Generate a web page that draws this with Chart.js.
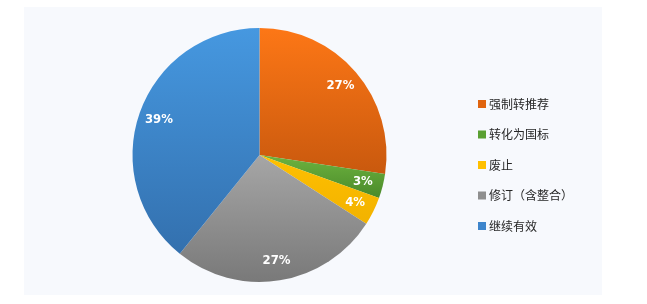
<!DOCTYPE html>
<html><head><meta charset="utf-8">
<script src="https://cdn.jsdelivr.net/npm/chart.js@4/dist/chart.umd.min.js"></script>
<style>
html,body{margin:0;padding:0;background:#fff;width:647px;height:304px;overflow:hidden}
#panel{position:absolute;left:24px;top:7px;width:578px;height:288px;background:#f7f9fd}
#wrap{position:absolute;left:0;top:0;width:647px;height:304px}
</style></head>
<body>
<div id="panel"></div>
<div id="wrap"><canvas id="c" width="647" height="304"></canvas></div>
<script>
const categories = ['强制转推荐', '转化为国标', '废止', '修订（含整合）', '继续有效'];
const values = [27.4, 3.1, 3.6, 26.7, 39.2];
const valueLabels = ['27%', '3%', '4%', '27%', '39%'];
const topColors = ['#fd7716', '#6db33f', '#ffc000', '#a6a6a6', '#4698e0'];
const bottomColors = ['#c9590e', '#4a8a2a', '#f2b200', '#797979', '#3370ae'];
const legendColors = ['#e0640f', '#5aa032', '#ffc000', '#8f8f8f', '#3d85cc'];

function sliceGradient(ctx) {
  const chart = ctx.chart;
  const i = ctx.dataIndex;
  const area = chart.chartArea;
  if (!area || i === undefined) return topColors[i] || '#999';
  const cx = (area.left + area.right) / 2, cy = (area.top + area.bottom) / 2;
  const r = Math.min(area.right - area.left, area.bottom - area.top) / 2;
  const total = values.reduce((a, b) => a + b, 0);
  let cum = 0;
  for (let k = 0; k < i; k++) cum += values[k];
  const a0 = -Math.PI / 2 + cum / total * 2 * Math.PI;
  const a1 = a0 + values[i] / total * 2 * Math.PI;
  let ys = [cy, cy + r * Math.sin(a0), cy + r * Math.sin(a1)];
  [-Math.PI / 2, Math.PI / 2, 3 * Math.PI / 2].forEach(a => { if (a > a0 && a < a1) ys.push(cy + r * Math.sin(a)); });
  const y0 = Math.min(...ys), y1 = Math.max(...ys);
  const g = chart.ctx.createLinearGradient(0, y0, 0, y1 + 0.01);
  g.addColorStop(0, topColors[i]);
  g.addColorStop(1, bottomColors[i]);
  return g;
}

const labelPlugin = {
  id: 'sliceLabels',
  afterDatasetsDraw(chart) {
    const ctx = chart.ctx;
    const meta = chart.getDatasetMeta(0);
    ctx.save();
    ctx.font = 'bold 13px "Liberation Sans Narrow", "DejaVu Sans Condensed", "Liberation Sans", sans-serif';
    ctx.fillStyle = '#ffffff';
    ctx.textAlign = 'center';
    ctx.textBaseline = 'middle';
    meta.data.forEach((arc, i) => {
      const mid = (arc.startAngle + arc.endAngle) / 2;
      const rr = arc.outerRadius * 0.84;
      ctx.fillText(valueLabels[i], arc.x + rr * Math.cos(mid), arc.y + rr * Math.sin(mid));
    });
    ctx.restore();
  }
};

const legendPlugin = {
  id: 'sideLegend',
  afterDraw(chart) {
    const ctx = chart.ctx;
    ctx.save();
    ctx.font = '12px "Noto Sans CJK SC", sans-serif';
    ctx.textBaseline = 'middle';
    ctx.textAlign = 'left';
    categories.forEach((c, i) => {
      const y = 104 + i * 30.5;
      ctx.fillStyle = legendColors[i];
      ctx.fillRect(478, y - 4, 8, 8);
      ctx.fillStyle = '#262626';
      ctx.fillText(c, 489, y);
    });
    ctx.restore();
  }
};

new Chart(document.getElementById('c'), {
  type: 'pie',
  data: {
    labels: categories,
    datasets: [{ data: values, backgroundColor: sliceGradient, borderWidth: 0 }]
  },
  options: {
    responsive: false,
    animation: false,
    layout: { padding: { left: 132.5, right: 260.5, top: 28, bottom: 22 } },
    plugins: { legend: { display: false }, tooltip: { enabled: false } }
  },
  plugins: [labelPlugin, legendPlugin]
});
</script>
</body></html>
